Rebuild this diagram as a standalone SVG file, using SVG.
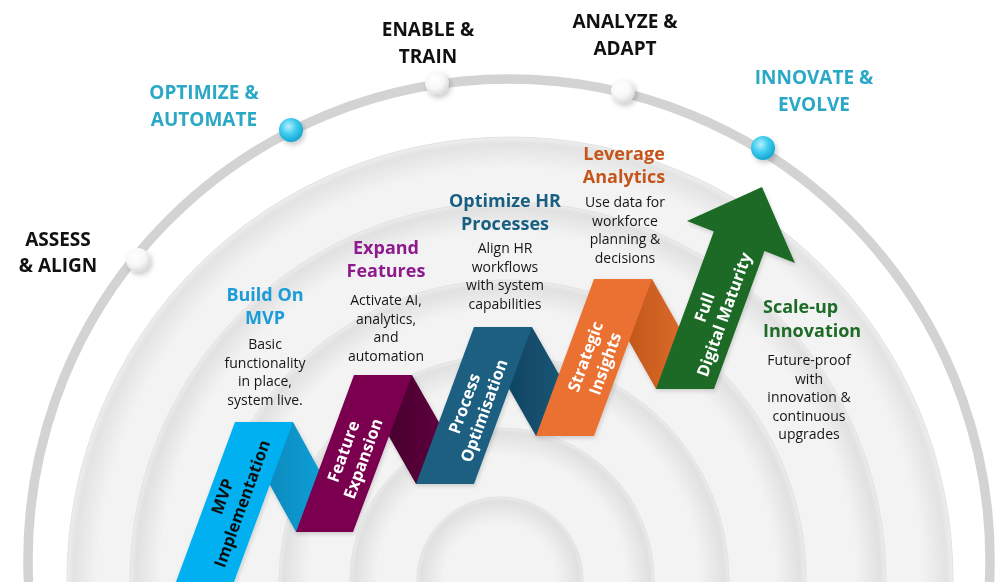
<svg xmlns="http://www.w3.org/2000/svg" width="1000" height="582" viewBox="0 0 1000 582">
<defs>
<radialGradient id="d1"><stop offset="0.93" stop-color="#f3f3f3"/><stop offset="0.985" stop-color="#e3e3e3"/><stop offset="1" stop-color="#eeeeee"/></radialGradient>
<radialGradient id="d2"><stop offset="0.92" stop-color="#f3f3f3"/><stop offset="0.985" stop-color="#e1e1e1"/><stop offset="1" stop-color="#ececec"/></radialGradient>
<radialGradient id="d3"><stop offset="0.9" stop-color="#f3f3f3"/><stop offset="0.98" stop-color="#e1e1e1"/><stop offset="1" stop-color="#ececec"/></radialGradient>
<radialGradient id="d4"><stop offset="0.87" stop-color="#f3f3f3"/><stop offset="0.98" stop-color="#e1e1e1"/><stop offset="1" stop-color="#ececec"/></radialGradient>
<radialGradient id="d5"><stop offset="0.82" stop-color="#f3f3f3"/><stop offset="0.97" stop-color="#e0e0e0"/><stop offset="1" stop-color="#ebebeb"/></radialGradient>
<radialGradient id="d6"><stop offset="0.68" stop-color="#f3f3f3"/><stop offset="0.95" stop-color="#e0e0e0"/><stop offset="1" stop-color="#ebebeb"/></radialGradient>
<radialGradient id="wdot" cx="0.4" cy="0.35" r="0.65"><stop offset="0" stop-color="#ffffff"/><stop offset="0.6" stop-color="#f7f7f7"/><stop offset="1" stop-color="#dcdcdc"/></radialGradient>
<radialGradient id="bdot" cx="0.4" cy="0.35" r="0.65"><stop offset="0" stop-color="#b8f0fc"/><stop offset="0.5" stop-color="#40cdef"/><stop offset="1" stop-color="#17a6d2"/></radialGradient>
<linearGradient id="b1" x1="0" y1="0" x2="1" y2="0"><stop offset="0" stop-color="#0a7fb0"/><stop offset="1" stop-color="#12a9e2"/></linearGradient>
<linearGradient id="b2" x1="0" y1="0" x2="1" y2="0"><stop offset="0" stop-color="#3a0025"/><stop offset="1" stop-color="#6c0047"/></linearGradient>
<linearGradient id="b3" x1="0" y1="0" x2="1" y2="0"><stop offset="0" stop-color="#0c3b54"/><stop offset="1" stop-color="#1a6082"/></linearGradient>
<linearGradient id="b4" x1="0" y1="0" x2="1" y2="0"><stop offset="0" stop-color="#b24c12"/><stop offset="1" stop-color="#ea7533"/></linearGradient>
<filter id="sh" x="-20%" y="-20%" width="140%" height="140%"><feDropShadow dx="1" dy="2" stdDeviation="2" flood-color="#000" flood-opacity="0.16"/></filter>
<filter id="dsh" x="-50%" y="-50%" width="200%" height="200%"><feDropShadow dx="2" dy="3" stdDeviation="2.5" flood-color="#000" flood-opacity="0.2"/></filter>
</defs>
<style>
.stage{font-family:"Open Sans","Liberation Sans",sans-serif;font-weight:700;font-size:19px;text-anchor:middle}
.teal{fill:#2aa8c6}
.dark{fill:#111111}
.title{font-family:"Open Sans","Liberation Sans",sans-serif;font-weight:700;font-size:18px;text-anchor:middle}
.body{font-family:"Open Sans","Liberation Sans",sans-serif;font-size:14px;fill:#161616;text-anchor:middle}
.rib{font-family:"Open Sans","Liberation Sans",sans-serif;font-weight:700;font-size:16.5px;text-anchor:middle;fill:#ffffff}
.ring{fill:none;stroke:#d3d3d3;stroke-width:9.5}
.disc{stroke:#e2e2e2;stroke-width:1}
</style>
<rect width="1000" height="582" fill="#ffffff"/>

<g id="outer-ring">
<path class="ring" d="M 28.5 582 A 481 481 0 1 1 989.5 582"/>
</g>

<g id="discs">
<circle class="disc" cx="510" cy="580" r="443" fill="url(#d1)"/>
<circle class="disc" cx="508" cy="580" r="378" fill="url(#d2)"/>
<circle class="disc" cx="506" cy="580" r="300" fill="url(#d3)"/>
<circle class="disc" cx="504" cy="580" r="225" fill="url(#d4)"/>
<circle class="disc" cx="502" cy="580" r="152" fill="url(#d5)"/>
<circle class="disc" cx="500" cy="580" r="83" fill="url(#d6)"/>
</g>

<g id="ribbon" filter="url(#sh)">
<polygon id="back-1" points="235,422 293,422 353,532 296,532" fill="url(#b1)"/>
<polygon id="back-2" points="354,375 412,375 474,484 416,484" fill="url(#b2)"/>
<polygon id="back-3" points="474,327 532,327 594,436 536,436" fill="url(#b3)"/>
<polygon id="back-4" points="594,279 652,279 714,389 656,389" fill="url(#b4)"/>
<g id="mvp-implementation">
<polygon points="235,422 293,422 231,590 173,590" fill="#00b0f0"/>
<text class="rib" transform="translate(232,500) rotate(-70)" style="fill:#111111"><tspan x="0" y="-4.5">MVP</tspan><tspan x="0" y="16.5">Implementation</tspan></text>
</g>
<g id="feature-expansion">
<polygon points="296,532 353,532 412,375 354,375" fill="#7a0050"/>
<text class="rib" transform="translate(353,455) rotate(-70)"><tspan x="0" y="-4.5">Feature</tspan><tspan x="0" y="16.5">Expansion</tspan></text>
</g>
<g id="process-optimisation">
<polygon points="416,484 474,484 532,327 474,327" fill="#1a5f81"/>
<text class="rib" transform="translate(474,407) rotate(-70)"><tspan x="0" y="-4.5">Process</tspan><tspan x="0" y="16.5">Optimisation</tspan></text>
</g>
<g id="strategic-insights">
<polygon points="536,436 594,436 652,279 594,279" fill="#ea7131"/>
<text class="rib" transform="translate(595,360) rotate(-70)"><tspan x="0" y="-4.5">Strategic</tspan><tspan x="0" y="16.5">Insights</tspan></text>
</g>
<g id="full-digital-maturity">
<polygon points="656,389 714,389 764.5,251 795,263 762,187 687,221 713.8,231.4" fill="#1b6b25"/>
<text class="rib" transform="translate(714,311) rotate(-70)"><tspan x="0" y="-4.5">Full</tspan><tspan x="0" y="16.5">Digital Maturity</tspan></text>
</g>
</g>

<g id="dots">
<circle cx="138" cy="260" r="12" fill="url(#wdot)" filter="url(#dsh)"/>
<circle cx="291" cy="130" r="12" fill="url(#bdot)" filter="url(#dsh)"/>
<circle cx="437" cy="83" r="12" fill="url(#wdot)" filter="url(#dsh)"/>
<circle cx="623" cy="91" r="12" fill="url(#wdot)" filter="url(#dsh)"/>
<circle cx="763" cy="148" r="12" fill="url(#bdot)" filter="url(#dsh)"/>
</g>

<g id="stage-assess"><text class="stage dark"><tspan x="58" y="246">ASSESS</tspan><tspan x="58" y="272">&amp; ALIGN</tspan></text></g>
<g id="stage-optimize"><text class="stage teal"><tspan x="204" y="99">OPTIMIZE &amp;</tspan><tspan x="204" y="126">AUTOMATE</tspan></text></g>
<g id="stage-enable"><text class="stage dark"><tspan x="428" y="36">ENABLE &amp;</tspan><tspan x="428" y="63">TRAIN</tspan></text></g>
<g id="stage-analyze"><text class="stage dark"><tspan x="625" y="28">ANALYZE &amp;</tspan><tspan x="625" y="55">ADAPT</tspan></text></g>
<g id="stage-innovate"><text class="stage teal"><tspan x="814" y="84">INNOVATE &amp;</tspan><tspan x="814" y="111">EVOLVE</tspan></text></g>

<g id="build-on-mvp">
<text class="title" fill="#1b9bd7"><tspan x="265" y="301">Build On</tspan><tspan x="265" y="324">MVP</tspan></text>
<text class="body"><tspan x="265" y="349">Basic</tspan><tspan x="265" y="367.5">functionality</tspan><tspan x="265" y="386">in place,</tspan><tspan x="265" y="404.5">system live.</tspan></text>
</g>
<g id="expand-features">
<text class="title" fill="#8e1a8e"><tspan x="386" y="254">Expand</tspan><tspan x="386" y="277">Features</tspan></text>
<text class="body"><tspan x="386" y="305">Activate AI,</tspan><tspan x="386" y="323.5">analytics,</tspan><tspan x="386" y="342">and</tspan><tspan x="386" y="360.5">automation</tspan></text>
</g>
<g id="optimize-hr-processes">
<text class="title" fill="#195f82"><tspan x="505" y="207">Optimize HR</tspan><tspan x="505" y="230">Processes</tspan></text>
<text class="body"><tspan x="505" y="253">Align HR</tspan><tspan x="505" y="271.5">workflows</tspan><tspan x="505" y="290">with system</tspan><tspan x="505" y="308.5">capabilities</tspan></text>
</g>
<g id="leverage-analytics">
<text class="title" fill="#c5561b"><tspan x="624" y="160">Leverage</tspan><tspan x="624" y="183">Analytics</tspan></text>
<text class="body"><tspan x="625" y="207">Use data for</tspan><tspan x="625" y="225.5">workforce</tspan><tspan x="625" y="244">planning &amp;</tspan><tspan x="625" y="262.5">decisions</tspan></text>
</g>
<g id="scale-up-innovation">
<text class="title" fill="#1d6b27" style="text-anchor:start"><tspan x="763" y="313">Scale-up</tspan><tspan x="763" y="337">Innovation</tspan></text>
<text class="body"><tspan x="809" y="365">Future-proof</tspan><tspan x="809" y="383.5">with</tspan><tspan x="809" y="402">innovation &amp;</tspan><tspan x="809" y="420.5">continuous</tspan><tspan x="809" y="439">upgrades</tspan></text>
</g>
</svg>
